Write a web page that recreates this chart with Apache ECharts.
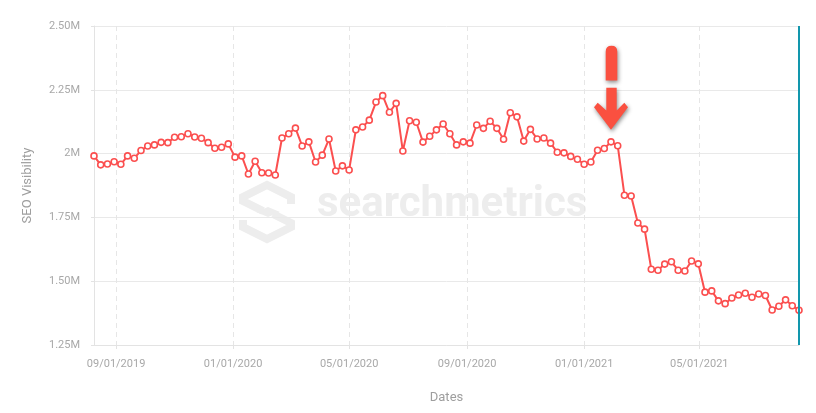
<!DOCTYPE html>
<html>
<head>
<meta charset="utf-8">
<script src="https://cdn.jsdelivr.net/npm/echarts@6/dist/echarts.min.js"></script>
<style>
  html, body { margin: 0; padding: 0; background: #ffffff; }
  #chart { width: 816px; height: 413px; }
</style>
</head>
<body>
<div id="chart"></div>
<script>
const dates = [
  '2019-08-09','2019-08-16','2019-08-23','2019-08-30','2019-09-06','2019-09-13','2019-09-20','2019-09-27',
  '2019-10-04','2019-10-11','2019-10-18','2019-10-25','2019-11-01','2019-11-08','2019-11-15','2019-11-22',
  '2019-11-29','2019-12-06','2019-12-13','2019-12-20','2019-12-27',
  '2020-01-03','2020-01-10','2020-01-17','2020-01-24','2020-01-31','2020-02-07','2020-02-14','2020-02-21',
  '2020-02-28','2020-03-06','2020-03-13','2020-03-20','2020-03-27','2020-04-03','2020-04-10','2020-04-17',
  '2020-04-24','2020-05-01','2020-05-08','2020-05-15','2020-05-22','2020-05-29','2020-06-05','2020-06-12',
  '2020-06-19','2020-06-26','2020-07-03','2020-07-10','2020-07-17','2020-07-24','2020-07-31','2020-08-07',
  '2020-08-14','2020-08-21','2020-08-28','2020-09-04','2020-09-11','2020-09-18','2020-09-25','2020-10-02',
  '2020-10-09','2020-10-16','2020-10-23','2020-10-30','2020-11-06','2020-11-13','2020-11-20','2020-11-27',
  '2020-12-04','2020-12-11','2020-12-18','2020-12-25',
  '2021-01-01','2021-01-08','2021-01-15','2021-01-22','2021-01-29','2021-02-05','2021-02-12','2021-02-19',
  '2021-02-26','2021-03-05','2021-03-12','2021-03-19','2021-03-26','2021-04-02','2021-04-09','2021-04-16',
  '2021-04-23','2021-04-30','2021-05-07','2021-05-14','2021-05-21','2021-05-28','2021-06-04','2021-06-11',
  '2021-06-18','2021-06-25','2021-07-02','2021-07-09','2021-07-16','2021-07-23','2021-07-30','2021-08-06',
  '2021-08-13'
];

const visibility = [
  1991000,1956000,1959000,1968000,1958000,1991000,1982000,2012000,2030000,2034000,
  2044000,2043000,2064000,2066000,2078000,2065000,2060000,2043000,2021000,2025000,
  2038000,1986000,1991000,1920000,1970000,1925000,1924000,1916000,2061000,2078000,
  2100000,2030000,2046000,1967000,1994000,2057000,1932000,1952000,1936000,2093000,
  2104000,2131000,2202000,2227000,2162000,2197000,2010000,2129000,2123000,2045000,
  2068000,2093000,2116000,2078000,2034000,2046000,2041000,2112000,2099000,2127000,
  2099000,2056000,2160000,2144000,2049000,2095000,2057000,2061000,2041000,2005000,
  2003000,1989000,1978000,1958000,1967000,2013000,2020000,2046000,2031000,1837000,
  1834000,1728000,1704000,1547000,1543000,1567000,1576000,1543000,1540000,1579000,
  1568000,1457000,1462000,1423000,1412000,1434000,1446000,1453000,1437000,1450000,
  1444000,1387000,1402000,1427000,1404000,1386000
];

const xTickDates = ['2019-09-01','2020-01-01','2020-05-01','2020-09-01','2021-01-01','2021-05-01'];
const yMin = 1250000, yMax = 2500000, yStep = 250000;
const arrowIndex = 77; // the week marked by the arrow
const xName = 'Dates';
const yName = 'SEO Visibility';
const watermark = 'searchmetrics';

const ts = s => +echarts.time.parse(s);
const xTicks = xTickDates.map(ts);
const xs = dates.map(ts);

const chart = echarts.init(document.getElementById('chart'), null, { renderer: 'canvas' });

const font = 'Roboto';
const lineColor = '#fb4f4f';
const wmColor = '#ededed';
const arrowPath = 'path://M11.7 34.7 L11.7 5.8 Q11.7 0 17.5 0 Q23.3 0 23.3 5.8 L23.3 34.7 Z ' +
  'M12.3 42 L22.7 42 L22.7 64.7 L30.3 57 L34 61.3 L17 84 L0 61.3 L3.7 57 L12.3 64.7 Z';

chart.setOption({
  animation: false,
  textStyle: { fontFamily: font },
  grid: { left: 94, right: 17, top: 26, bottom: 68, containLabel: false },
  graphic: [
    {
      type: 'polyline', z: -10, silent: true,
      shape: { points: [[291,204],[291,197],[267,185],[243,197],[243,201],[263,211]] },
      style: { stroke: wmColor, lineWidth: 8, fill: null, lineJoin: 'miter' }
    },
    {
      type: 'polygon', z: -10, silent: true,
      shape: { points: [[256,212],[268,207],[280,212],[268,217]] },
      style: { fill: wmColor }
    },
    {
      type: 'polyline', z: -10, silent: true,
      shape: { points: [[273,214],[291,223],[291,227],[267,239],[243,227],[243,220]] },
      style: { stroke: wmColor, lineWidth: 8, fill: null, lineJoin: 'miter' }
    },
    {
      type: 'text', z: -10, silent: true,
      style: { x: 317, y: 205, text: watermark, fill: wmColor,
        font: 'bold 42px Roboto', verticalAlign: 'middle', align: 'left' }
    }
  ],
  xAxis: {
    type: 'value',
    min: xs[0],
    max: xs[xs.length - 1],
    name: xName,
    nameLocation: 'middle',
    nameGap: 46,
    nameTextStyle: { color: '#9e9e9e', fontSize: 13, fontFamily: font },
    axisLine: { show: true, lineStyle: { color: '#e3e3e3', width: 1 } },
    axisTick: { show: true, customValues: xTicks, length: 4, lineStyle: { color: '#e3e3e3' } },
    axisLabel: {
      customValues: xTicks,
      margin: 14,
      color: '#a8a8a8', fontSize: 11, fontFamily: font,
      formatter: v => echarts.time.format(v, '{MM}/{dd}/{yyyy}', false)
    },
    splitLine: { show: true, lineStyle: { color: '#e6e6e6', type: [5, 4], width: 1 } }
  },
  yAxis: {
    type: 'value',
    min: yMin, max: yMax, interval: yStep,
    name: yName,
    nameLocation: 'middle',
    nameGap: 60,
    nameRotate: 90,
    nameTextStyle: { color: '#9e9e9e', fontSize: 13, fontFamily: font },
    axisLine: { show: true, lineStyle: { color: '#e3e3e3', width: 1 } },
    axisTick: { show: true, length: 3, lineStyle: { color: '#e3e3e3' } },
    axisLabel: {
      margin: 14, color: '#a8a8a8', fontSize: 11, fontFamily: font,
      formatter: v => {
        const m = v / 1e6;
        return (Number.isInteger(m) ? String(m) : m.toFixed(2)) + 'M';
      }
    },
    splitLine: { show: true, lineStyle: { color: '#e9e9e9', width: 1 } }
  },
  series: [{
    type: 'line',
    data: xs.map((x, i) => [x, visibility[i]]),
    symbol: 'circle',
    symbolSize: 6,
    showSymbol: true,
    lineStyle: { color: lineColor, width: 2 },
    itemStyle: { color: '#ffffff', borderColor: lineColor, borderWidth: 1.6 },
    emphasis: { disabled: true },
    markLine: {
      silent: true,
      symbol: 'none',
      label: { show: false },
      emphasis: { disabled: true },
      lineStyle: { color: '#1297ad', width: 2, type: 'solid' },
      data: [{ xAxis: xs[xs.length - 1] }]
    },
    markPoint: {
      silent: true,
      symbol: arrowPath,
      symbolSize: [34, 84],
      symbolKeepAspect: false,
      symbolOffset: [0, -54],
      label: { show: false },
      itemStyle: { color: '#fa5040', shadowBlur: 4, shadowColor: 'rgba(0,0,0,0.45)', shadowOffsetX: 1, shadowOffsetY: 2 },
      data: [{ coord: [xs[arrowIndex], visibility[arrowIndex]] }]
    }
  }]
});
</script>
</body>
</html>
